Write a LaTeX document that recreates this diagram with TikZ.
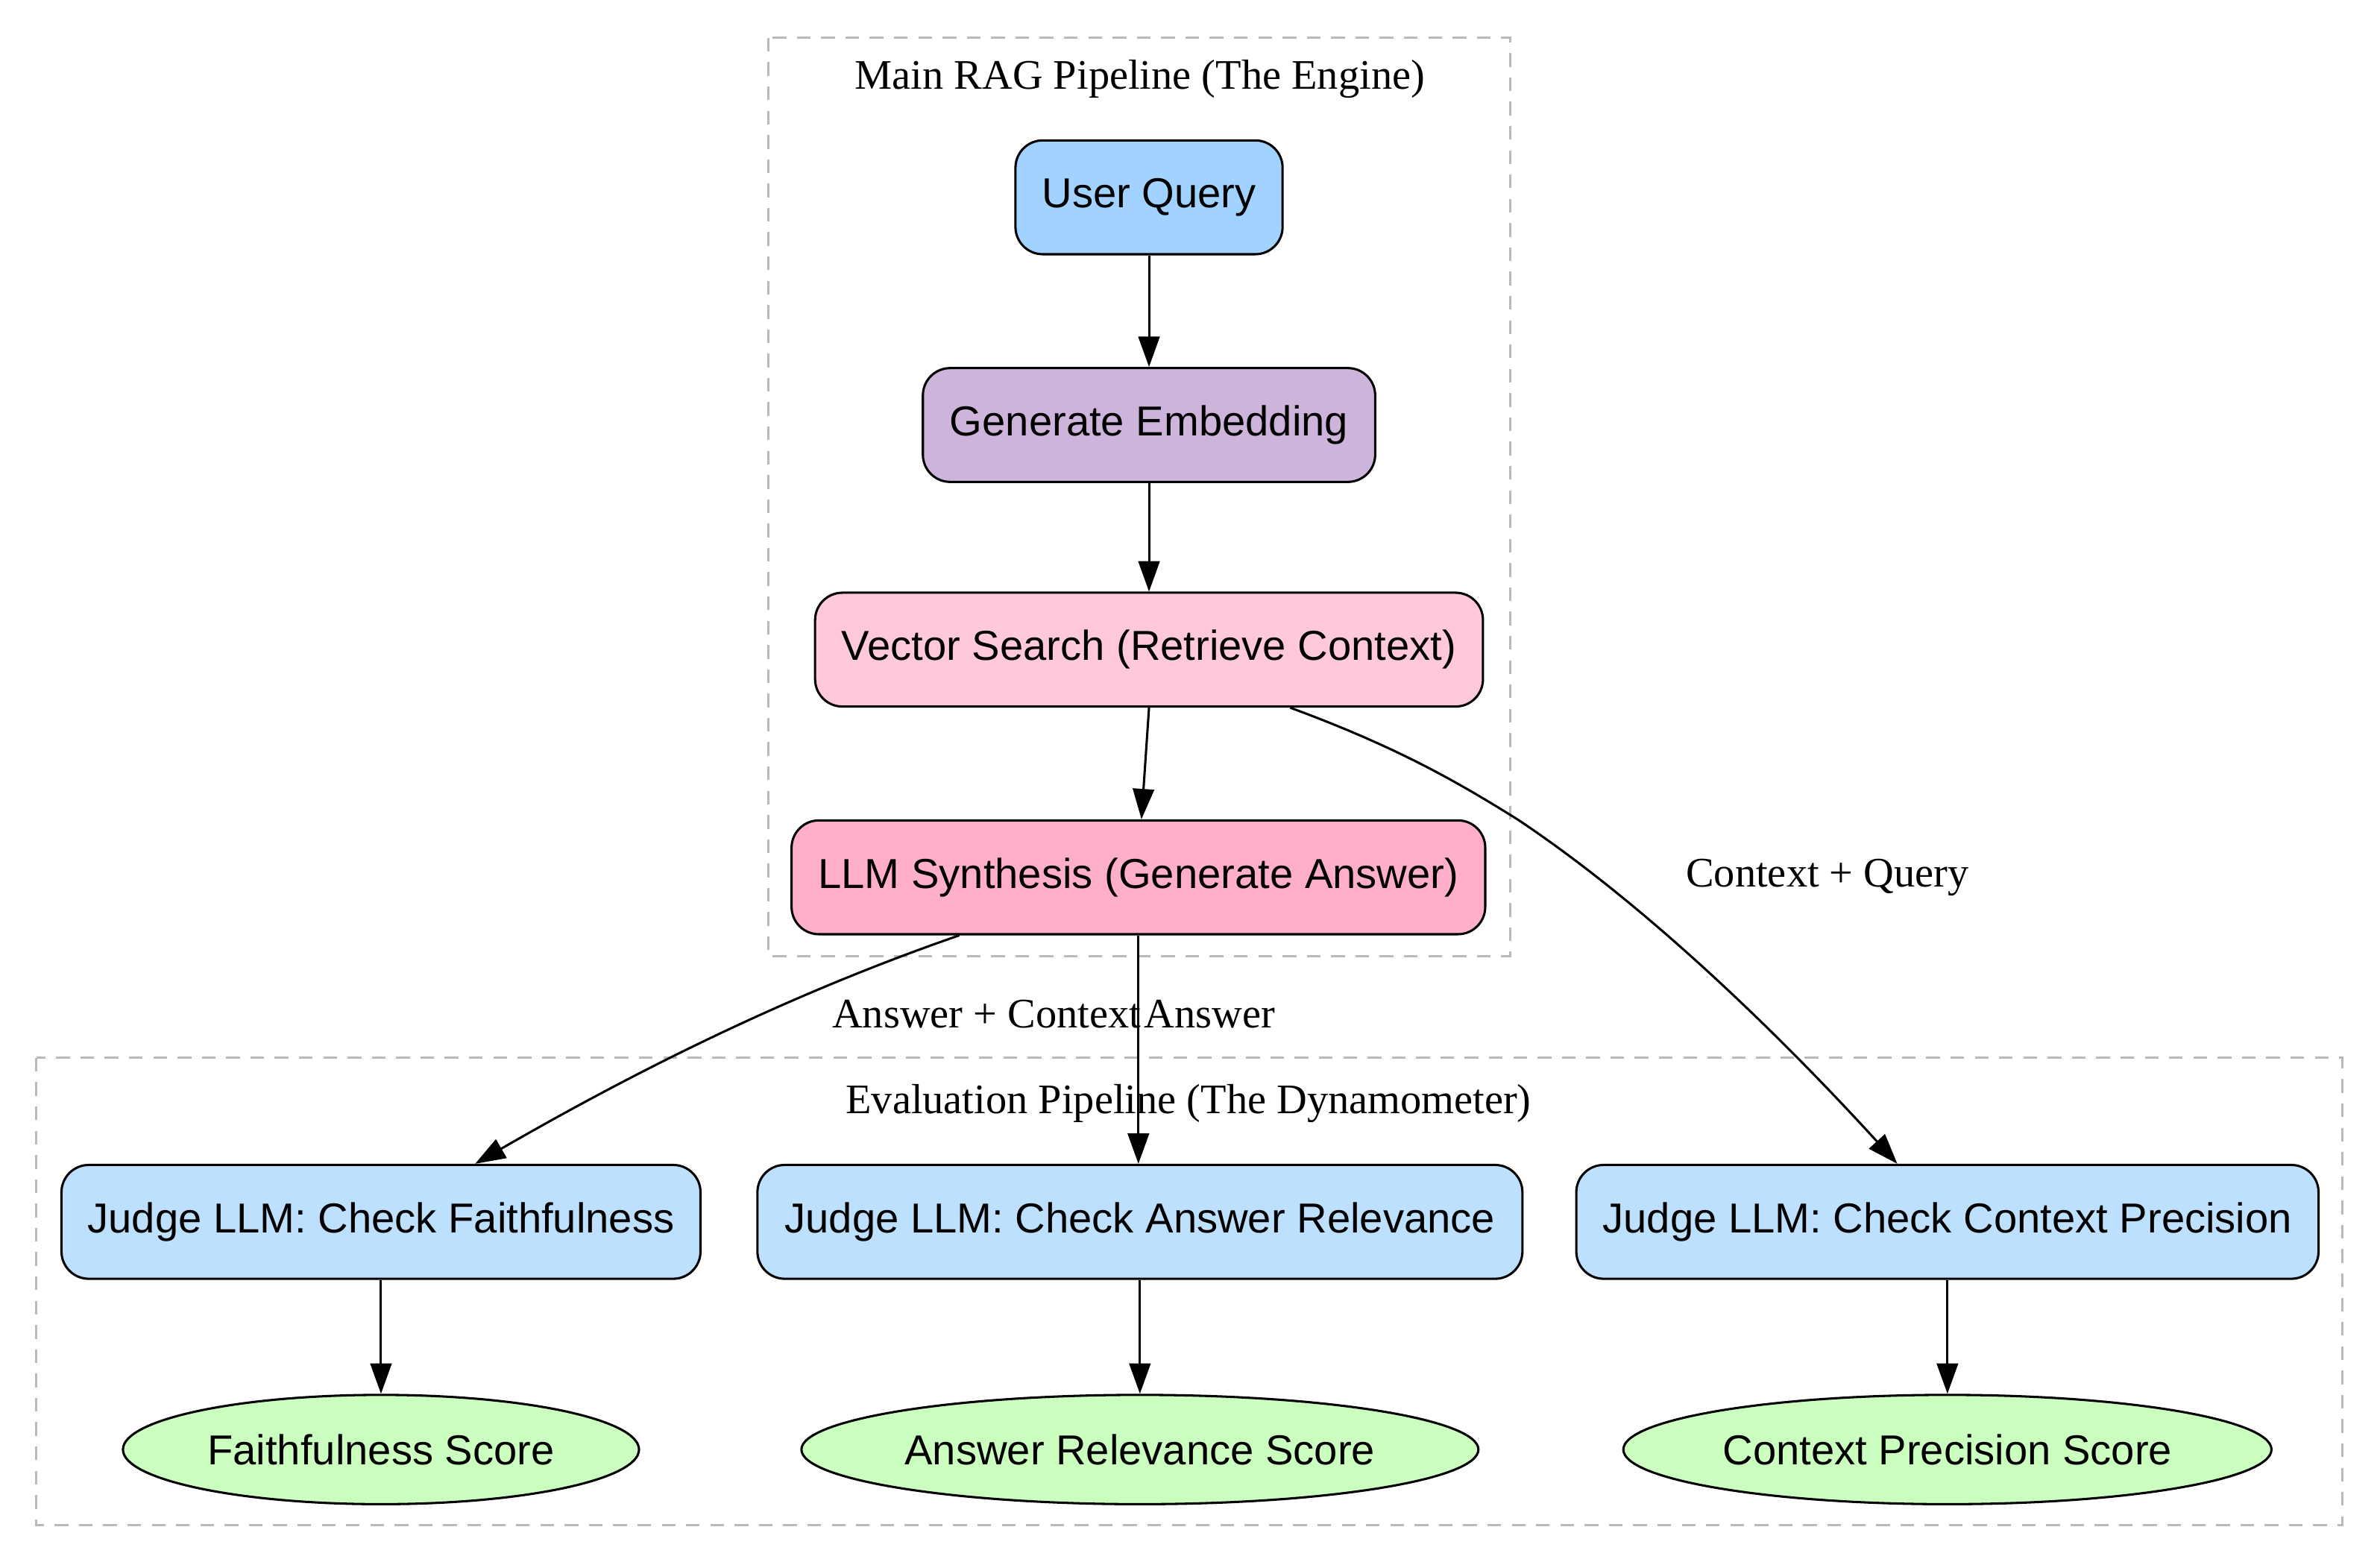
\documentclass[tikz,border=0pt]{standalone}
\usepackage{fontspec}
\setmainfont{Liberation Serif}
\newfontfamily\hv{Liberation Sans}
\usetikzlibrary{arrows.meta,shapes.geometric}
\definecolor{cq}{HTML}{A2D2FF}
\definecolor{ce}{HTML}{CDB4DB}
\definecolor{cv}{HTML}{FFC8DD}
\definecolor{cl}{HTML}{FFAFCC}
\definecolor{cj}{HTML}{BDE0FE}
\definecolor{cs}{HTML}{CAFFBF}
\begin{document}
\begin{tikzpicture}[x=1pt,y=-1pt,line width=1.5pt,
  box/.style={draw,rounded corners=18pt,font=\hv\fontsize{27.6}{30}\selectfont,minimum height=75pt,inner sep=0pt},
  sc/.style={draw,ellipse,font=\hv\fontsize{27.6}{30}\selectfont,minimum height=72pt,inner sep=0pt},
  clu/.style={draw=gray!55,dashed,line width=1.5pt,dash pattern=on 9pt off 7pt},
  lbl/.style={font=\fontsize{27.7}{30}\selectfont},
  arr/.style={-{Triangle[length=20pt,width=14pt]}}]
\useasboundingbox (0,0) rectangle (1568,1031);
\draw[clu] (506,25) rectangle (995,630);
\node[lbl] (t1) at (751,52) {Main RAG Pipeline (The Engine)};
\draw[clu] (24,697) rectangle (1543,1005);
\node[lbl] (t2) at (783,727) {Evaluation Pipeline (The Dynamometer)};
\node[box,fill=cq,minimum width=176pt] (uq) at (757,130) {User Query};
\node[box,fill=ce,minimum width=298pt] (ge) at (757,280) {Generate Embedding};
\node[box,fill=cv,minimum width=440pt] (vs) at (757,428) {Vector Search (Retrieve Context)};
\node[box,fill=cl,minimum width=457pt] (ls) at (750,578) {LLM Synthesis (Generate Answer)};
\node[box,fill=cj,minimum width=421pt] (jf) at (251,805) {Judge LLM: Check Faithfulness};
\node[box,fill=cj,minimum width=504pt] (ja) at (751,805) {Judge LLM: Check Answer Relevance};
\node[box,fill=cj,minimum width=489pt] (jc) at (1283,805) {Judge LLM: Check Context Precision};
\node[sc,fill=cs,minimum width=340pt] (sf) at (251,955) {Faithfulness Score};
\node[sc,fill=cs,minimum width=446pt] (sa) at (751,955) {Answer Relevance Score};
\node[sc,fill=cs,minimum width=427pt] (sp) at (1283,955) {Context Precision Score};
\draw[arr] (uq) -- (ge);
\draw[arr] (ge) -- (vs);
\draw[arr] (vs.south -| 757,0) -- (ls.north -| 752,0);
\draw[arr] (ls.south -| 632,0) .. controls (520,655) and (420,705) .. (jf.north -| 313,0);
\node[lbl] (l1) at (650,668) {Answer + Context};
\draw[arr] (ls.south -| 750,0) -- (ja.north -| 750,0);
\node[lbl] (l2) at (797,668) {Answer};
\draw[arr] (vs.south -| 850,0) .. controls (920,492) and (960,515) .. (1000,540) .. controls (1090,600) and (1180,690) .. (jc.north -| 1250,0);
\node[lbl] (l3) at (1204,578) {Context + Query};
\draw[arr] (jf) -- (sf);
\draw[arr] (ja) -- (sa);
\draw[arr] (jc) -- (sp);
\end{tikzpicture}
\end{document}
